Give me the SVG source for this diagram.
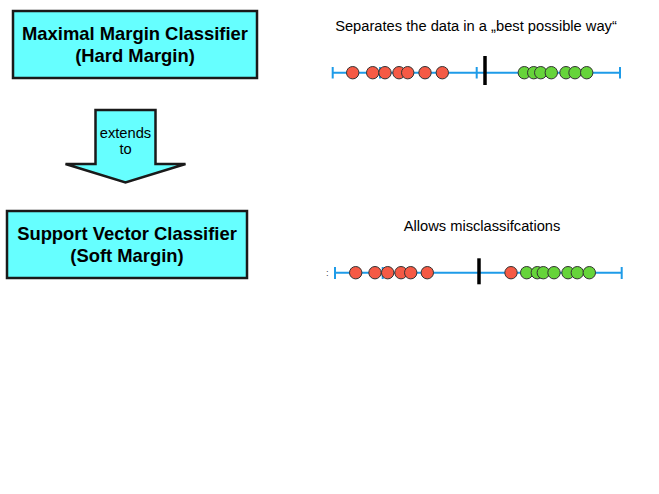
<svg xmlns="http://www.w3.org/2000/svg" width="659" height="494" viewBox="0 0 659 494">
<style>
.box{fill:#66FFFF;stroke:#1a1a1a;stroke-width:2.5}
.bt{font-family:"Liberation Sans",Arial,sans-serif;font-weight:bold;font-size:18.4px;fill:#000;text-anchor:middle}
.t{font-family:"Liberation Sans",Arial,sans-serif;font-size:14.7px;fill:#000;text-anchor:middle}
.axis{stroke:#1E9BE8;stroke-width:2;fill:none}
.bar{stroke:#000;stroke-width:3.5}
.r{fill:#F55A45;stroke:#333;stroke-width:1}
.g{fill:#66D43A;stroke:#333;stroke-width:1}
</style>
<rect width="659" height="494" fill="#fff"/>
<g id="node-mmc">
<rect class="box" x="13" y="11" width="244" height="67"/>
<text class="bt" x="135" y="40">Maximal Margin Classifier</text>
<text class="bt" x="135" y="62">(Hard Margin)</text>
</g>
<g id="node-svc">
<rect class="box" x="7" y="211" width="240" height="67"/>
<text class="bt" x="127" y="239.5">Support Vector Classifier</text>
<text class="bt" x="127" y="261.5">(Soft Margin)</text>
</g>
<g id="connectors">
<g id="arrow-extends">
<path class="box" d="M95.5,110 H155.5 V164 H185.5 L125.5,182.5 L65.5,164 H95.5 Z" stroke-linejoin="miter"/>
<text class="t" x="125.5" y="138">extends</text>
<text class="t" x="125.5" y="154">to</text>
</g>
</g>
<g id="plot-hard">
<text class="t" x="476" y="30.5">Separates the data in a „best possible way“</text>
<line class="axis" x1="332.7" y1="72.7" x2="620" y2="72.7"/>
<line class="axis" x1="332.7" y1="67" x2="332.7" y2="78.5"/>
<line class="axis" x1="380" y1="67" x2="380" y2="78.5"/>
<line class="axis" x1="427.5" y1="67" x2="427.5" y2="78.5"/>
<line class="axis" x1="476.7" y1="67" x2="476.7" y2="78.5"/>
<line class="axis" x1="620" y1="67" x2="620" y2="78.5"/>
<line class="bar" x1="485" y1="56" x2="485" y2="85"/>
<circle class="r" cx="352.7" cy="72.7" r="6.2"/>
<circle class="r" cx="372.7" cy="72.7" r="6.2"/>
<circle class="r" cx="385" cy="72.7" r="6.2"/>
<circle class="r" cx="399" cy="72.7" r="6.2"/>
<circle class="r" cx="407.7" cy="72.7" r="6.2"/>
<circle class="r" cx="425" cy="72.7" r="6.2"/>
<circle class="r" cx="442.3" cy="72.7" r="6.2"/>
<circle class="g" cx="524.3" cy="72.7" r="6.2"/>
<circle class="g" cx="533.7" cy="72.7" r="6.2"/>
<circle class="g" cx="540.7" cy="72.7" r="6.2"/>
<circle class="g" cx="551.3" cy="72.7" r="6.2"/>
<circle class="g" cx="566" cy="72.7" r="6.2"/>
<circle class="g" cx="575" cy="72.7" r="6.2"/>
<circle class="g" cx="586.7" cy="72.7" r="6.2"/>
</g>
<g id="plot-soft">
<text class="t" x="482" y="230.5">Allows misclassifcations</text>
<text x="327.3" y="276" font-family="'Liberation Sans',Arial,sans-serif" font-size="9.5" fill="#444" text-anchor="middle">:</text>
<line class="axis" x1="335" y1="272.7" x2="621.7" y2="272.7"/>
<line class="axis" x1="335" y1="267" x2="335" y2="279"/>
<line class="axis" x1="382.7" y1="267" x2="382.7" y2="279"/>
<line class="axis" x1="621.7" y1="267" x2="621.7" y2="279"/>
<line class="bar" x1="479" y1="258.3" x2="479" y2="284.3"/>
<circle class="r" cx="355.7" cy="272.7" r="6.2"/>
<circle class="r" cx="375" cy="272.7" r="6.2"/>
<circle class="r" cx="387.7" cy="272.7" r="6.2"/>
<circle class="r" cx="401" cy="272.7" r="6.2"/>
<circle class="r" cx="410.7" cy="272.7" r="6.2"/>
<circle class="r" cx="427.3" cy="272.7" r="6.2"/>
<circle class="r" cx="511" cy="272.7" r="6.2"/>
<circle class="g" cx="526.7" cy="272.7" r="6.2"/>
<circle class="g" cx="537.3" cy="272.7" r="6.2"/>
<circle class="g" cx="543.3" cy="272.7" r="6.2"/>
<circle class="g" cx="554" cy="272.7" r="6.2"/>
<circle class="g" cx="568" cy="272.7" r="6.2"/>
<circle class="g" cx="577.3" cy="272.7" r="6.2"/>
<circle class="g" cx="589.3" cy="272.7" r="6.2"/>
</g>
</svg>
